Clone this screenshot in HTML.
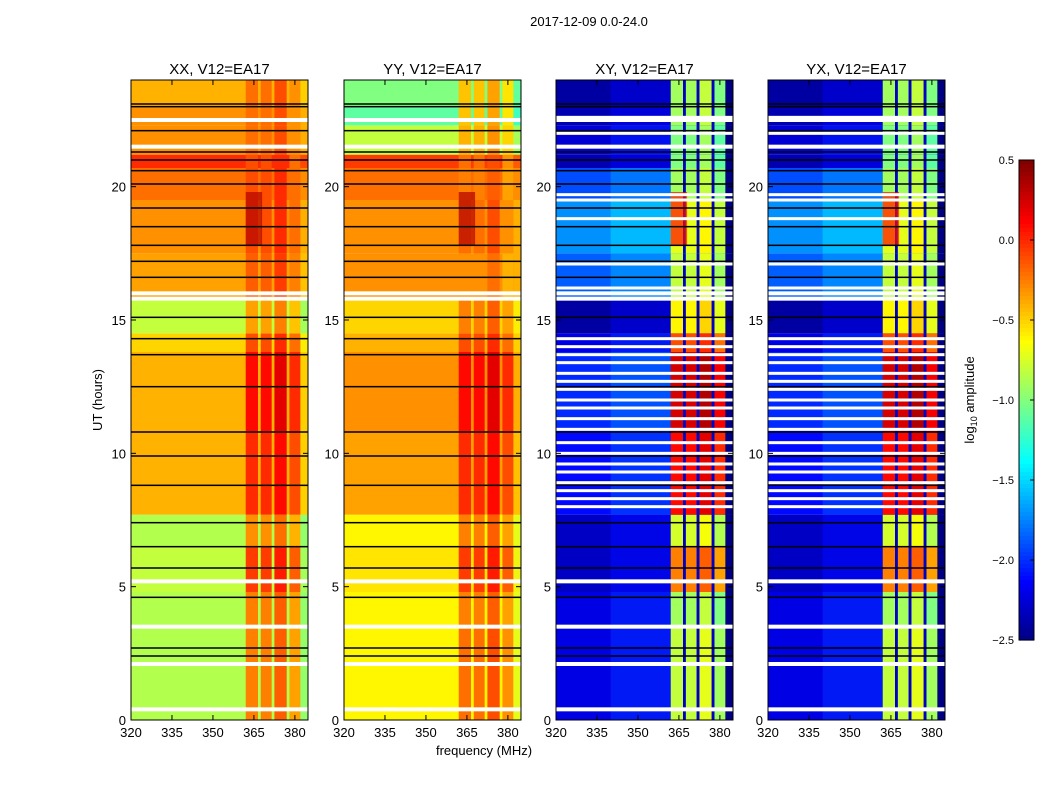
<!DOCTYPE html>
<html><head><meta charset="utf-8">
<style>
body{margin:0;background:#fff;font-family:"Liberation Sans",sans-serif;}
svg text{font-family:"Liberation Sans",sans-serif;}
</style></head>
<body>
<svg id="chart" width="1050" height="800" xmlns="http://www.w3.org/2000/svg">
<text x="589" y="26" font-size="13" text-anchor="middle">2017-12-09 0.0-24.0</text>
<text transform="translate(102,400) rotate(-90)" font-size="13" text-anchor="middle">UT (hours)</text>
<text x="484" y="755" font-size="13" text-anchor="middle">frequency (MHz)</text>
<g id="panels"></g>
<g id="cbar"></g>
</svg>
<script>
// ---- data ----
const panelTitles = ["XX, V12=EA17","YY, V12=EA17","XY, V12=EA17","YX, V12=EA17"];
const bandEdges = [0,3.5,4.8,6.5,7.7,10.8,13.8,14.5,15.8,17.5,19.5,20.7,21.2,22.3,23,24];
const xxBg  = [-0.85,-0.85,-0.8,-0.85,-0.4,-0.4,-0.5,-0.8,-0.35,-0.3,-0.2,0.0,-0.3,-0.3,-0.4];
const xxSub = [-0.25,-0.25,-0.05,-0.3,0.0,0.1,-0.1,-0.35,-0.15,-0.1,-0.1,-0.1,-0.2,-0.2,-0.2];
const yyBg  = [-0.6,-0.6,-0.55,-0.6,-0.35,-0.3,-0.4,-0.5,-0.3,-0.3,-0.2,-0.05,-0.8,-1.1,-1.0];
const yySub = [-0.2,-0.25,-0.05,-0.25,0.0,0.1,-0.1,-0.25,-0.3,-0.2,-0.25,-0.2,-0.4,-0.45,-0.45];
const xyBg  = [-2.2,-2.2,-2.3,-2.3,-2.1,-2.0,-2.2,-2.4,-1.85,-1.7,-1.9,-2.35,-2.25,-2.35,-2.4];
const xySub = [-0.8,-0.9,-0.25,-0.75,0.1,0.25,-0.1,-0.6,-0.8,-0.7,-0.9,-1.0,-1.0,-0.9,-0.9];
const yxBg  = xyBg.slice();
const yxSub = xySub.slice();
const subCols = [[362,366.5],[367.5,371.5],[372.5,377],[378,382]];
const whiteRows = [0.4,2.1,3.5,5.2,15.8,16.0,21.5,22.5];
const blackRows = [2.4,2.7,4.6,5.7,6.5,7.4,8.8,9.9,10.8,12.5,13.7,14.3,15.1,16.6,17.2,17.8,18.5,19.2,20.1,20.6,21.0,21.3,22.1,23.0,23.1];
const xyWhiteRows = [8.0,8.3,8.6,8.9,9.3,9.6,10.0,10.4,10.9,11.3,11.7,12.0,12.4,12.7,13.0,13.4,13.7,14.0,14.3,16.2,17.1,18.8,19.5,19.7,22.0,22.6];
const xTicks = [320,335,350,365,380];
const yTicks = [0,5,10,15,20];
const cbTicks = [0.5,0.0,-0.5,-1.0,-1.5,-2.0,-2.5];
const cbLabels = ["0.5","0.0","\u22120.5","\u22121.0","\u22121.5","\u22122.0","\u22122.5"];
// ---- layout ----
const panelX=[131,344,556,768], PW=177, PT=80, PH=640;
const fMin=320,fMax=384.8,tMax=24,vmin=-2.5,vmax=0.5;
const NS="http://www.w3.org/2000/svg";
function jet(v){let t=(v-vmin)/(vmax-vmin);t=Math.max(0,Math.min(1,t));
 const c=x=>Math.round(255*Math.max(0,Math.min(1,x)));
 const r=c(Math.min(4*t-1.5,-4*t+4.5)),g=c(Math.min(4*t-0.5,-4*t+3.5)),b=c(Math.min(4*t+0.5,-4*t+2.5));
 return `rgb(${r},${g},${b})`;}
function el(tag,attrs,parent){const e=document.createElementNS(NS,tag);for(const k in attrs)e.setAttribute(k,attrs[k]);parent.appendChild(e);return e;}
const panels=document.getElementById('panels');
const series=[[xxBg,xxSub],[yyBg,yySub],[xyBg,xySub],[yxBg,yxSub]];
panelTitles.forEach((title,p)=>{
 const x0=panelX[p];
 const xs=f=>x0+(f-fMin)/(fMax-fMin)*PW;
 const ys=t=>PT+PH-(t/tMax)*PH;
 const g=el('g',{},panels);
 
 
 const [bg,sub]=series[p];
 const cross=p>=2;
 for(let i=0;i<bandEdges.length-1;i++){
  const y1=ys(bandEdges[i+1]),y2=ys(bandEdges[i]);
  const r=el('rect',{x:x0,y:y1,width:PW,height:y2-y1,fill:jet(bg[i])},g);
  
  
  if(cross){
   el('rect',{x:xs(340),y:y1,width:xs(362)-xs(340),height:y2-y1,fill:jet(bg[i]+0.2),opacity:0.6},g);
   el('rect',{x:xs(381.5),y:y1,width:xs(fMax)-xs(381.5),height:y2-y1,fill:jet(-2.5)},g);
  } else {
   el('rect',{x:xs(382),y:y1,width:xs(fMax)-xs(382),height:y2-y1,fill:jet(bg[i]-0.15),opacity:0.6},g);
  }
  subCols.forEach((c,j)=>{
   const s=el('rect',{x:xs(c[0]),y:y1,width:xs(c[1])-xs(c[0]),height:y2-y1,fill:jet(sub[i]+(j==2?0.1:0)-(j==3?0.1:0))},g);
   
   
  });
  if(cross){[366.5,371.5,377].forEach(f=>el('rect',{x:xs(f),y:y1,width:xs(f+1)-xs(f),height:y2-y1,fill:jet(-2.3)},g));}
 }
 const spot=el('rect',{x:xs(362),y:ys(19.8),width:xs(368)-xs(362),height:ys(17.8)-ys(19.8),fill:jet(cross?0.1:0.35),opacity:0.7},g);
 
 
 whiteRows.forEach(t=>el('rect',{x:x0,y:ys(t)-2,width:PW,height:4,fill:'#fff'},g));
 blackRows.forEach(t=>el('rect',{x:x0,y:ys(t)-0.75,width:PW,height:1.5,fill:'#000'},g));
 if(cross) xyWhiteRows.forEach(t=>el('rect',{x:x0,y:ys(t)-1.5,width:PW,height:3,fill:'#fff'},g));
 el('rect',{x:x0,y:PT,width:PW,height:PH,fill:'none',stroke:'#000','stroke-width':1},g);
 const tt=el('text',{x:x0+PW/2,y:74,'font-size':15,'text-anchor':'middle'},g);tt.textContent=title;
 
 
 xTicks.forEach(f=>{const x=xs(f);
  el('line',{x1:x,x2:x,y1:PT+PH,y2:PT+PH-5,stroke:'#000'},g);
  el('line',{x1:x,x2:x,y1:PT,y2:PT+5,stroke:'#000'},g);
  const t=el('text',{x:x,y:PT+PH+17,'font-size':13,'text-anchor':'middle'},g);t.textContent=f;
  
  });
 yTicks.forEach(v=>{const y=ys(v);
  el('line',{x1:x0,x2:x0+5,y1:y,y2:y,stroke:'#000'},g);
  el('line',{x1:x0+PW,x2:x0+PW-5,y1:y,y2:y,stroke:'#000'},g);
  const t=el('text',{x:x0-5,y:y+5,'font-size':13,'text-anchor':'end'},g);t.textContent=v;
  
  });
});
// colorbar
const cb=document.getElementById('cbar');


const cbX=1019,cbW=15,cbT=160,cbH=480;
for(let i=0;i<120;i++){const v=vmax-(i/120)*(vmax-vmin);
 el('rect',{x:cbX,y:cbT+i*cbH/120,width:cbW,height:cbH/120+0.6,fill:jet(v)},cb);}
el('rect',{x:cbX,y:cbT,width:cbW,height:cbH,fill:'none',stroke:'#000'},cb);
cbTicks.forEach((v,i)=>{const y=cbT+(vmax-v)/(vmax-vmin)*cbH;
 el('line',{x1:cbX+cbW-4,x2:cbX+cbW,y1:y,y2:y,stroke:'#000'},cb);
 const t=el('text',{x:cbX-5,y:y+4,'font-size':11,'text-anchor':'end'},cb);t.textContent=cbLabels[i];
 
 });
const cl=el('text',{transform:'translate(974,400) rotate(-90)','font-size':13,'text-anchor':'middle'},cb);
cl.innerHTML='log<tspan font-size="9" dy="3">10</tspan><tspan dy="-3"> amplitude</tspan>';


</script>
</body></html>
